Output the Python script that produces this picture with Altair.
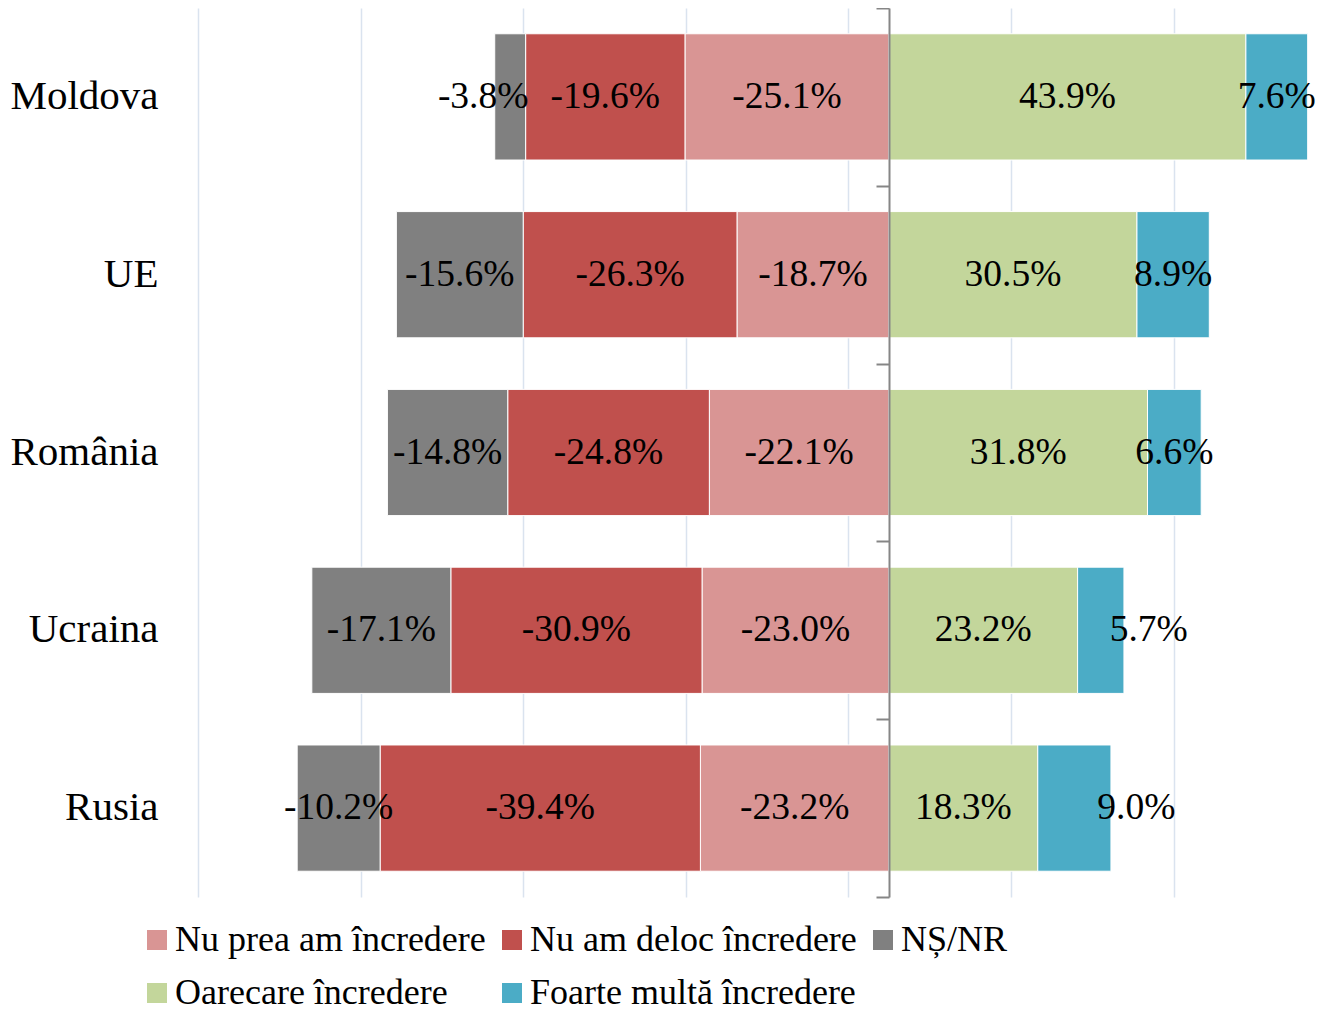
import altair as alt
import pandas as pd

countries = ["Moldova", "UE", "România", "Ucraina", "Rusia"]
categories = ["Nu prea am încredere", "Nu am deloc încredere", "NȘ/NR",
              "Oarecare încredere", "Foarte multă încredere"]
colors = ["#D99594", "#C0504D", "#808080", "#C3D69B", "#4BACC6"]

nu_prea = [-25.1, -18.7, -22.1, -23.0, -23.2]
nu_deloc = [-19.6, -26.3, -24.8, -30.9, -39.4]
ns_nr = [-3.8, -15.6, -14.8, -17.1, -10.2]
oarecare = [43.9, 30.5, 31.8, 23.2, 18.3]
foarte = [7.6, 8.9, 6.6, 5.7, 9.0]

grid_values = [-85, -65, -45, -25, -5, 15, 35, 55]
x_domain = [-85, 54]

series = [nu_prea, nu_deloc, ns_nr, oarecare, foarte]
rows = []
for ci, cat in enumerate(categories):
    for ki, country in enumerate(countries):
        rows.append({"country": country, "category": cat,
                     "value": series[ci][ki], "order": ci})
df = pd.DataFrame(rows)

FONT = "Liberation Serif"
W, H = 1130, 889

# label nudges in pixels (as placed by hand in the original)
nudges = [("Moldova", "NȘ/NR", -27),
          ("Ucraina", "Foarte multă încredere", 48),
          ("Rusia", "Foarte multă încredere", 62)]
nudge_expr = ""
for c, k, d in nudges:
    nudge_expr += f"(datum.country === '{c}' && datum.category === '{k}') ? {d} : "
nudge_expr += "0"

base = alt.Chart(df).transform_stack(
    stack="value", groupby=["country"],
    sort=[alt.SortField("order", order="ascending")], as_=["x0", "x1"]
).transform_calculate(
    mid="(datum.x0 + datum.x1) / 2",
    label="(datum.value < 0 ? '-' : '') + format(abs(datum.value), '.1f') + '%'",
    nudge=nudge_expr,
)

x_scale = alt.Scale(domain=x_domain, nice=False, zero=False)
x_axis = alt.Axis(values=grid_values, labels=False, ticks=False, domain=False,
                  grid=True, gridColor="#DAE3EF", gridWidth=1.5, title=None)
y_scale = alt.Scale(paddingInner=0.29, paddingOuter=0.145)

bars = base.mark_bar(stroke="white", strokeWidth=1).encode(
    x=alt.X("x0:Q", scale=x_scale, axis=x_axis),
    x2="x1:Q",
    y=alt.Y("country:N", sort=countries, scale=y_scale,
            axis=alt.Axis(title=None, domain=False, ticks=False, grid=False,
                          labelFont=FONT, labelFontSize=41, labelColor="black",
                          labelPadding=40, orient="left")),
    color=alt.Color("category:N", scale=alt.Scale(domain=categories, range=colors),
                    legend=alt.Legend(title=None, orient="none", legendX=-59, legendY=914,
                                      direction="horizontal", columns=3,
                                      symbolType="square", symbolSize=400,
                                      symbolStrokeWidth=0, labelFont=FONT,
                                      labelFontSize=36, labelColor="black",
                                      labelOffset=0, rowPadding=17, columnPadding=8,
                                      labelLimit=600)),
)

text = base.mark_text(font=FONT, fontSize=37.5, color="black", baseline="middle",
                      align="center", dx=alt.ExprRef(expr="datum.nudge")).encode(
    x=alt.X("mid:Q", scale=x_scale, axis=x_axis),
    y=alt.Y("country:N", sort=countries, scale=y_scale, axis=None),
    text="label:N",
)

zero_offset = -W * (0 - x_domain[0]) / (x_domain[1] - x_domain[0])
zero_axis = base.mark_bar(opacity=0).encode(
    x=alt.X("x0:Q", scale=x_scale, axis=x_axis),
    x2="x1:Q",
    y=alt.Y("country:N", sort=countries,
            scale=alt.Scale(paddingInner=0, paddingOuter=0),
            axis=alt.Axis(orient="left", offset=zero_offset, labels=False, title=None,
                          grid=False, domainColor="#868686", domainWidth=2,
                          tickColor="#868686", tickWidth=2, tickSize=13,
                          tickBand="extent", zindex=2)),
)

chart = alt.layer(bars, text, zero_axis).resolve_scale(
    y="independent"
).resolve_axis(y="independent").properties(
    width=W, height=H,
    padding={"left": 190, "top": 0, "right": 5, "bottom": 114},
    autosize=alt.AutoSizeParams(type="none"),
).configure_view(stroke=None)

chart.save("out.html", embed_options={"renderer": "svg", "actions": False})
